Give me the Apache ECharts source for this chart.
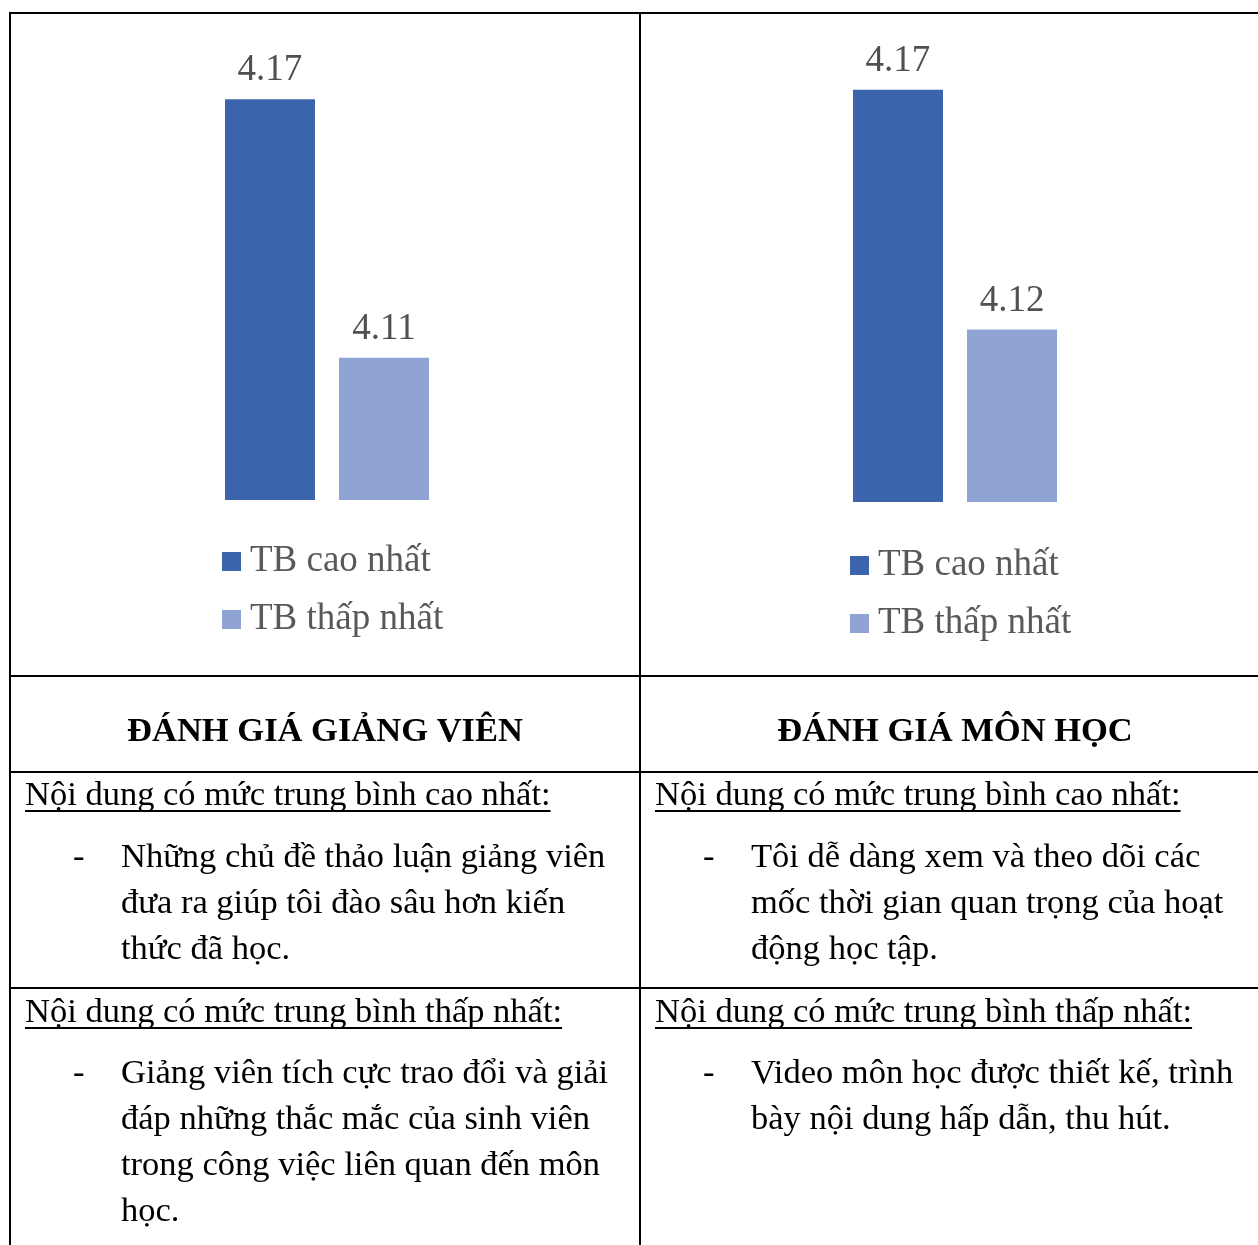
<!DOCTYPE html>
<html><head><meta charset="utf-8">
<script src="https://cdn.jsdelivr.net/npm/echarts@6/dist/echarts.min.js"></script>
<style>html,body{margin:0;padding:0;background:#fff}#c{width:1258px;height:1245px}</style>
</head><body><div id="c"></div>
<script>
// ---- data ----
const seriesNames = ['TB cao nhất', 'TB thấp nhất'];
const giangVienCategory = ['Giảng viên'];
const monHocCategory = ['Môn học'];
const giangVienValues = [4.17, 4.11];
const monHocValues = [4.17, 4.12];
const panelTitles = ['ĐÁNH GIÁ GIẢNG VIÊN', 'ĐÁNH GIÁ MÔN HỌC'];
const highHeading = 'Nội dung có mức trung bình cao nhất:';
const lowHeading = 'Nội dung có mức trung bình thấp nhất:';
const giangVienHigh = ['Những chủ đề thảo luận giảng viên', 'đưa ra giúp tôi đào sâu hơn kiến', 'thức đã học.'];
const giangVienLow = ['Giảng viên tích cực trao đổi và giải', 'đáp những thắc mắc của sinh viên', 'trong công việc liên quan đến môn', 'học.'];
const monHocHigh = ['Tôi dễ dàng xem và theo dõi các', 'mốc thời gian quan trọng của hoạt', 'động học tập.'];
const monHocLow = ['Video môn học được thiết kế, trình', 'bày nội dung hấp dẫn, thu hút.'];

// ---- style ----
const SERIF = '"Liberation Serif", "Times New Roman", serif';
const colors = ['#3B64AD', '#8FA4D4'];
const BODY = 34.5;
const LH = 46;

const chart = echarts.init(document.getElementById('c'), null, {renderer: 'canvas'});

const measure = (function () {
  const ctx = document.createElement('canvas').getContext('2d');
  return function (txt, size, weight) {
    ctx.font = (weight || 'normal') + ' ' + size + 'px ' + SERIF;
    return ctx.measureText(txt).width;
  };
})();

function makeSeries(values, axisIndex) {
  return values.map((v, i) => ({
    name: seriesNames[i],
    type: 'bar',
    xAxisIndex: axisIndex,
    yAxisIndex: axisIndex,
    barWidth: 90,
    barGap: '26.7%',
    itemStyle: {color: colors[i]},
    label: {
      show: true, position: 'top', distance: 10,
      fontSize: 37, fontFamily: SERIF, color: '#505050',
      formatter: p => p.value.toFixed(2)
    },
    data: [v]
  }));
}

const graphic = [];
function line(x1, y1, x2, y2) {
  graphic.push({type: 'line', shape: {x1, y1, x2, y2}, style: {stroke: '#000', lineWidth: 2}, silent: true});
}
function text(x, y, t, opt) {
  opt = opt || {};
  graphic.push({
    type: 'text', x, y, silent: true,
    style: {
      text: t, fill: '#000',
      font: (opt.weight || 'normal') + ' ' + (opt.size || BODY) + 'px ' + SERIF,
      align: opt.align || 'left', verticalAlign: opt.valign || 'middle',
      lineHeight: opt.lineHeight
    }
  });
}
function underlined(x, y, t) {
  text(x, y, t);
  const w = measure(t, BODY);
  graphic.push({type: 'line', shape: {x1: x, y1: y + 15, x2: x + w, y2: y + 15}, style: {stroke: '#000', lineWidth: 1.8}, silent: true});
}
function bullet(xDash, xText, yTop, lines) {
  text(xDash, yTop + LH / 2, '-');
  text(xText, yTop, lines.join('\n'), {valign: 'top', lineHeight: LH});
}

// table lines
line(10, 13, 1258, 13);
line(10, 12, 10, 1245);
line(640, 12, 640, 1245);
line(10, 676, 1258, 676);
line(10, 772, 1258, 772);
line(10, 988, 1258, 988);

// titles
text(325, 732, panelTitles[0], {weight: 'bold', align: 'center'});
text(955, 732, panelTitles[1], {weight: 'bold', align: 'center'});

// left column
underlined(25, 796, highHeading);
bullet(73, 121, 835, giangVienHigh);
underlined(25, 1013, lowHeading);
bullet(73, 121, 1051, giangVienLow);
// right column
underlined(655, 796, highHeading);
bullet(703, 751, 835, monHocHigh);
underlined(655, 1013, lowHeading);
bullet(703, 751, 1051, monHocLow);

const legendBase = {
  orient: 'vertical', icon: 'rect', itemWidth: 19, itemHeight: 19, itemGap: 21,
  padding: 0,
  data: seriesNames, selectedMode: false,
  textStyle: {fontSize: 37, fontFamily: SERIF, color: '#595959', padding: [0, 0, 0, 4]}
};

chart.setOption({
  animation: false,
  backgroundColor: '#fff',
  grid: [
    {left: 127, width: 400, top: 13, height: 487},
    {left: 755, width: 400, top: 13, height: 489}
  ],
  xAxis: [
    {type: 'category', gridIndex: 0, data: giangVienCategory, show: false},
    {type: 'category', gridIndex: 1, data: monHocCategory, show: false}
  ],
  yAxis: [
    {type: 'value', gridIndex: 0, min: 4.077, max: 4.19, show: false, splitLine: {show: false}},
    {type: 'value', gridIndex: 1, min: 4.084, max: 4.186, show: false, splitLine: {show: false}}
  ],
  legend: [
    Object.assign({}, legendBase, {left: 222, top: 543}),
    Object.assign({}, legendBase, {left: 850, top: 547})
  ],
  series: makeSeries(giangVienValues, 0).concat(makeSeries(monHocValues, 1)),
  graphic: graphic
});
</script>
</body></html>
